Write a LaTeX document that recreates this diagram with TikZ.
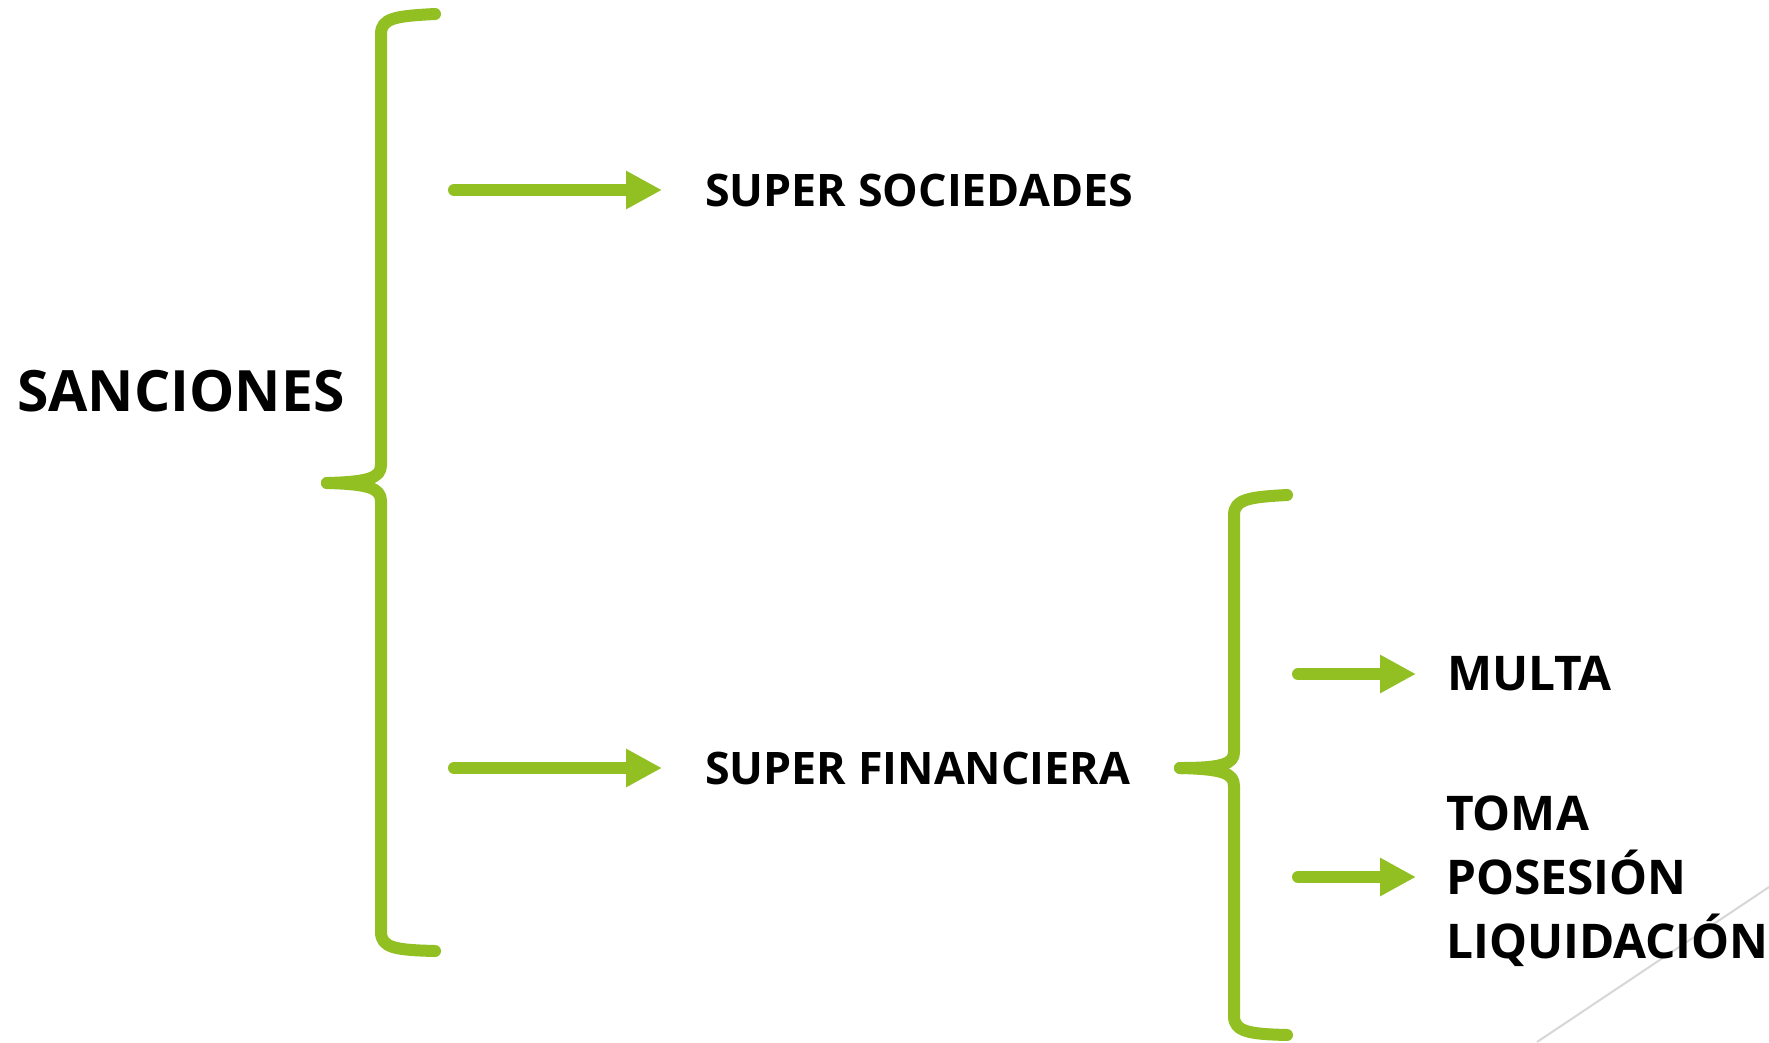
\documentclass[tikz,border=0pt]{standalone}
\usepackage{fontspec}
\setmainfont{Open Sans}
\usetikzlibrary{arrows.meta}
\definecolor{lime}{RGB}{146,192,35}
\definecolor{diag}{RGB}{215,215,215}
\tikzset{
  brace/.style={draw=lime, line width=12pt, line cap=round, line join=round},
  arr/.style={draw=lime, line width=12pt, line cap=round, -{Triangle[length=36pt,width=36pt]}},
  lbl/.style={inner sep=0pt, anchor=west, font=\fontsize{44.8}{50}\selectfont\bfseries, text=black},
  sanclbl/.style={inner sep=0pt, anchor=west, font=\fontsize{57}{64}\selectfont\bfseries, text=black},
  biglbl/.style={inner sep=0pt, anchor=west, font=\fontsize{47.8}{64}\selectfont\bfseries, text=black, align=left},
}
\begin{document}
\begin{tikzpicture}[x=1pt,y=-1pt]
\useasboundingbox (0,0) rectangle (1769,1042);
\fill[white] (0,0) rectangle (1769,1042);
% diagonal decoration
\draw[diag, line width=2pt] (1537,1042) -- (1769,887);
% labels
\node[sanclbl] (sanc) at (17,391) {SANCIONES};
\node[lbl] (ss) at (705,190) {SUPER SOCIEDADES};
\node[lbl] (sf) at (705,768) {SUPER FINANCIERA};
\node[biglbl] (multa) at (1447,674) {MULTA};
\node[biglbl] (toma) at (1446,881) {TOMA\\POSESIÓN\\LIQUIDACIÓN};
% big brace
\draw[brace] (435,14) .. controls (396,16) and (381,18) .. (381,34) -- (381,465) .. controls (381,478) and (368,482) .. (327,483);
\draw[brace] (327,483) .. controls (368,484) and (381,488) .. (381,501) -- (381,932) .. controls (381,948) and (396,950) .. (435,951);
% small brace
\draw[brace] (1287,495) .. controls (1250,497) and (1234,499) .. (1234,515) -- (1234,752) .. controls (1234,764) and (1222,768) .. (1180,768);
\draw[brace] (1180,768) .. controls (1222,769) and (1234,773) .. (1234,786) -- (1234,1016) .. controls (1234,1032) and (1250,1034) .. (1287,1035);
% arrows
\coordinate (a1) at (454,190);
\coordinate (a2) at (454,768);
\coordinate (a3) at (1298,674);
\coordinate (a4) at (1298,877);
\draw[arr] (a1) -- ([xshift=-43pt]ss.west);
\draw[arr] (a2) -- ([xshift=-43pt]sf.west);
\draw[arr] (a3) -- ([xshift=-31pt]multa.west);
\draw[arr] (a4) -- ([xshift=-30pt]toma.west |- a4);
\end{tikzpicture}
\end{document}
